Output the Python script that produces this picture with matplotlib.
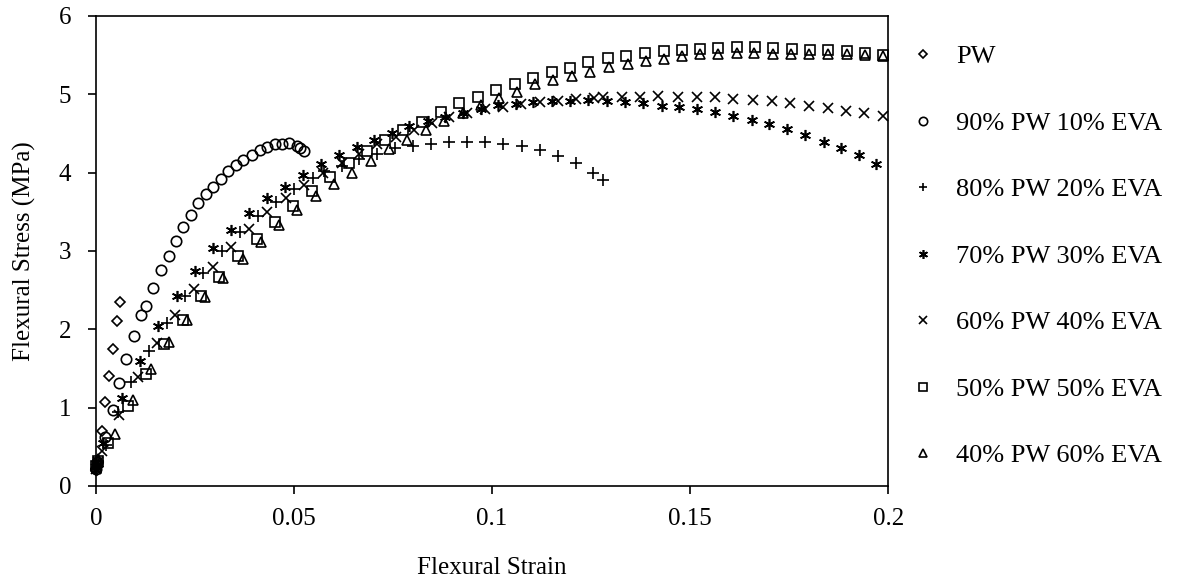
import matplotlib
matplotlib.use('Agg')
import matplotlib.pyplot as plt

plt.rcParams['font.family'] = ['Liberation Serif', 'DejaVu Serif']

# PW
pw_x = [0.0, 0.0004, 0.0014, 0.0023, 0.0033, 0.0042, 0.0052, 0.0061]
pw_y = [0.20, 0.30, 0.70, 1.07, 1.41, 1.75, 2.10, 2.35]

# 90% PW 10% EVA
p90_x = [0.0, 0.0003, 0.0022, 0.0042, 0.0059, 0.0076, 0.0095, 0.0114, 0.0125,
         0.0145, 0.0163, 0.0183, 0.0201, 0.0220, 0.0239, 0.0258, 0.0277, 0.0296,
         0.0315, 0.0334, 0.0353, 0.0372, 0.0393, 0.0414, 0.0431, 0.0452, 0.0469,
         0.0486, 0.0507, 0.0515, 0.0524]
p90_y = [0.22, 0.30, 0.63, 0.97, 1.32, 1.62, 1.91, 2.18, 2.30,
         2.53, 2.76, 2.94, 3.13, 3.30, 3.46, 3.61, 3.73, 3.82,
         3.92, 4.02, 4.10, 4.16, 4.22, 4.29, 4.33, 4.36, 4.37,
         4.38, 4.34, 4.31, 4.27]

# 80% PW 20% EVA
p80_x = [0.0, 0.0004, 0.0025, 0.0056, 0.0087, 0.0133, 0.0179, 0.0225, 0.0271,
         0.0317, 0.0363, 0.0409, 0.0455, 0.0501, 0.0547, 0.0575, 0.0620, 0.0663,
         0.0709, 0.0756, 0.0801, 0.0846, 0.0891, 0.0936, 0.0982, 0.1028, 0.1075,
         0.1120, 0.1166, 0.1211, 0.1256, 0.1281]
p80_y = [0.22, 0.32, 0.52, 0.95, 1.33, 1.72, 2.08, 2.42, 2.72,
         3.00, 3.24, 3.45, 3.63, 3.79, 3.93, 4.02, 4.09, 4.17,
         4.24, 4.31, 4.34, 4.37, 4.39, 4.39, 4.39, 4.36, 4.34,
         4.29, 4.21, 4.12, 3.99, 3.91]

# 70% PW 30% EVA
p70_x = [0.0, 0.0004, 0.0018, 0.0065, 0.0111, 0.0157, 0.0204, 0.0250, 0.0295,
         0.0340, 0.0386, 0.0431, 0.0477, 0.0522, 0.0567, 0.0614, 0.0660, 0.0702,
         0.0747, 0.0791, 0.0837, 0.0881, 0.0926, 0.0971, 0.1016, 0.1060, 0.1104,
         0.1150, 0.1197, 0.1243, 0.1290, 0.1336, 0.1382, 0.1428, 0.1473, 0.1518,
         0.1563, 0.1609, 0.1656, 0.1700, 0.1745, 0.1790, 0.1837, 0.1880, 0.1927,
         0.1970]
p70_y = [0.20, 0.28, 0.55, 1.12, 1.59, 2.04, 2.42, 2.74, 3.04,
         3.27, 3.48, 3.67, 3.82, 3.97, 4.11, 4.23, 4.33, 4.42,
         4.51, 4.59, 4.66, 4.71, 4.76, 4.81, 4.86, 4.88, 4.90,
         4.91, 4.92, 4.93, 4.92, 4.90, 4.89, 4.85, 4.84, 4.81,
         4.77, 4.72, 4.67, 4.62, 4.56, 4.48, 4.39, 4.31, 4.23,
         4.11]

# 60% PW 40% EVA
p60_x = [0.0, 0.0004, 0.0015, 0.0059, 0.0107, 0.0153, 0.0200, 0.0247, 0.0295,
         0.0340, 0.0387, 0.0432, 0.0480, 0.0525, 0.0572, 0.0620, 0.0665, 0.0710,
         0.0757, 0.0803, 0.0847, 0.0892, 0.0936, 0.0982, 0.1027, 0.1073, 0.1120,
         0.1166, 0.1212, 0.1258, 0.1280, 0.1327, 0.1374, 0.1420, 0.1470, 0.1517,
         0.1563, 0.1609, 0.1658, 0.1706, 0.1752, 0.1799, 0.1847, 0.1894, 0.1940,
         0.1987]
p60_y = [0.22, 0.30, 0.45, 0.90, 1.39, 1.83, 2.18, 2.51, 2.80,
         3.05, 3.28, 3.50, 3.67, 3.84, 3.99, 4.12, 4.24, 4.36,
         4.46, 4.55, 4.63, 4.71, 4.76, 4.81, 4.84, 4.87, 4.90,
         4.92, 4.94, 4.95, 4.96, 4.97, 4.97, 4.98, 4.97, 4.96,
         4.96, 4.94, 4.93, 4.91, 4.89, 4.85, 4.82, 4.79, 4.76,
         4.72]

# 50% PW 50% EVA
p50_x = [0.0, 0.0004, 0.0031, 0.0080, 0.0126, 0.0172, 0.0219, 0.0266, 0.0311,
         0.0359, 0.0406, 0.0452, 0.0498, 0.0544, 0.0591, 0.0639, 0.0683, 0.0730,
         0.0776, 0.0822, 0.0870, 0.0917, 0.0964, 0.1010, 0.1058, 0.1104, 0.1150,
         0.1197, 0.1243, 0.1292, 0.1338, 0.1386, 0.1433, 0.1479, 0.1525, 0.1571,
         0.1618, 0.1664, 0.1710, 0.1757, 0.1803, 0.1849, 0.1895, 0.1942, 0.1988]
p50_y = [0.25, 0.32, 0.55, 1.02, 1.43, 1.81, 2.12, 2.42, 2.67,
         2.93, 3.15, 3.37, 3.57, 3.76, 3.95, 4.12, 4.27, 4.42,
         4.55, 4.65, 4.78, 4.89, 4.97, 5.06, 5.13, 5.21, 5.28,
         5.34, 5.41, 5.46, 5.49, 5.53, 5.55, 5.57, 5.58, 5.59,
         5.60, 5.60, 5.59, 5.58, 5.57, 5.56, 5.55, 5.53, 5.50]

# 40% PW 60% EVA
p40_x = [0.0, 0.0004, 0.0047, 0.0093, 0.0140, 0.0185, 0.0229, 0.0275, 0.0321,
         0.0370, 0.0416, 0.0463, 0.0508, 0.0556, 0.0600, 0.0647, 0.0693, 0.0740,
         0.0786, 0.0833, 0.0879, 0.0926, 0.0971, 0.1018, 0.1062, 0.1109, 0.1155,
         0.1201, 0.1247, 0.1296, 0.1342, 0.1388, 0.1434, 0.1479, 0.1525, 0.1571,
         0.1618, 0.1662, 0.1709, 0.1754, 0.1801, 0.1849, 0.1895, 0.1942, 0.1988]
p40_y = [0.28, 0.35, 0.67, 1.10, 1.49, 1.84, 2.12, 2.41, 2.66,
         2.90, 3.12, 3.33, 3.52, 3.70, 3.86, 3.99, 4.15, 4.30,
         4.42, 4.55, 4.66, 4.76, 4.86, 4.95, 5.03, 5.13, 5.18,
         5.23, 5.29, 5.35, 5.39, 5.43, 5.45, 5.49, 5.51, 5.52,
         5.53, 5.53, 5.52, 5.52, 5.52, 5.52, 5.52, 5.50, 5.49]

series = [
    (pw_x, pw_y, 'D', 5.5, 'PW'),
    (p90_x, p90_y, 'o', 7.5, '90% PW 10% EVA'),
    (p80_x, p80_y, '+', 8, '80% PW 20% EVA'),
    (p70_x, p70_y, (6, 2, 0), 8, '70% PW 30% EVA'),
    (p60_x, p60_y, 'x', 7, '60% PW 40% EVA'),
    (p50_x, p50_y, 's', 7, '50% PW 50% EVA'),
    (p40_x, p40_y, '^', 7.5, '40% PW 60% EVA'),
]

fig = plt.figure(figsize=(11.77, 5.83), dpi=100)
ax = fig.add_axes([0.0816, 0.1664, 0.673, 0.8062])

for x, y, m, ms, lab in series:
    ax.plot(x, y, linestyle='none', marker=m, markersize=ms,
            markerfacecolor='none', markeredgecolor='black',
            markeredgewidth=1.2, color='black', label=lab, clip_on=False)

ax.set_xlim(0, 0.2)
ax.set_ylim(0, 6)
ax.set_xticks([0, 0.05, 0.1, 0.15, 0.2])
ax.set_xticklabels(['0', '0.05', '0.1', '0.15', '0.2'])
ax.set_yticks(range(0, 7))
ax.tick_params(axis='both', direction='out', length=6, width=1.2,
               labelsize=18, colors='black')
ax.tick_params(axis='x', pad=10)
ax.tick_params(axis='y', pad=12)
for s in ax.spines.values():
    s.set_linewidth(1.2)

ax.set_xlabel('Flexural Strain', fontsize=18, labelpad=19)
ax.set_ylabel('Flexural Stress (MPa)', fontsize=18, labelpad=16)

leg = fig.legend(loc='upper left', bbox_to_anchor=(0.7665, 0.941),
                 frameon=False, fontsize=19, markerscale=0.8,
                 handlelength=0.8, handletextpad=0.85, labelspacing=1.63,
                 borderaxespad=0)

fig.savefig('out.png', dpi=100)
